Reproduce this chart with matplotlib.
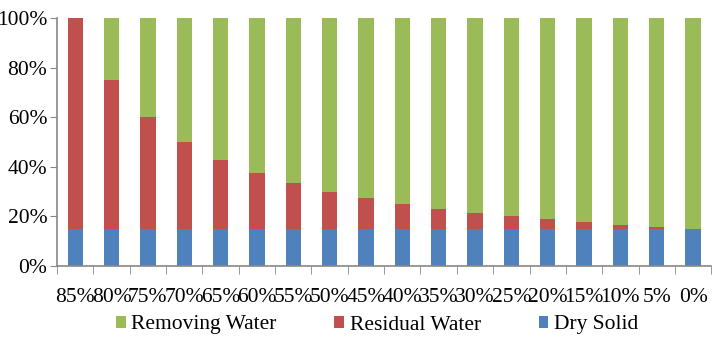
import numpy as np
import matplotlib.pyplot as plt
from matplotlib.ticker import FixedLocator, PercentFormatter

plt.rcParams['font.family'] = ['Liberation Serif', 'DejaVu Serif']

moisture = ['85%', '80%', '75%', '70%', '65%', '60%', '55%', '50%', '45%',
            '40%', '35%', '30%', '25%', '20%', '15%', '10%', '5%', '0%']
dry_solid = [15] * 18
residual = [85, 60, 45, 35, 27.9, 22.5, 18.3, 15, 12.3,
            10, 8.1, 6.4, 5, 3.8, 2.6, 1.7, 0.8, 0]
removing = [100 - d - r for d, r in zip(dry_solid, residual)]

x = np.arange(len(moisture))
fig, ax = plt.subplots(figsize=(7.17, 3.43), dpi=100)
fig.subplots_adjust(left=0.0795, right=0.992, top=0.9475, bottom=0.2245)

w = 0.42
b1 = ax.bar(x, dry_solid, w, color='#4F81BD', label='Dry Solid')
b2 = ax.bar(x, residual, w, bottom=dry_solid, color='#C0504D', label='Residual Water')
bot = [d + r for d, r in zip(dry_solid, residual)]
b3 = ax.bar(x, removing, w, bottom=bot, color='#9BBB59', label='Removing Water')

ax.set_xlim(-0.5, len(moisture) - 0.5)
ax.set_ylim(0, 100)
ax.set_yticks(range(0, 101, 20))
ax.yaxis.set_major_formatter(PercentFormatter(decimals=0))
ax.set_xticks(x)
ax.set_xticklabels(moisture)
ax.xaxis.set_minor_locator(FixedLocator(np.arange(-0.5, len(moisture), 1.0)))
ax.tick_params(axis='x', which='major', length=0, pad=16, labelsize=15.5)
ax.tick_params(axis='x', which='minor', length=6, color='#888888')
ax.tick_params(axis='y', length=5, color='#888888', labelsize=15.5, pad=2)

for s in ['top', 'right']:
    ax.spines[s].set_visible(False)
for s in ['left', 'bottom']:
    ax.spines[s].set_color('#888888')
    ax.spines[s].set_linewidth(1.2)

fig.legend(handles=[b3, b2, b1], loc='center', bbox_to_anchor=(377 / 717, 18 / 343),
           ncol=3, frameon=False, fontsize=15.5, handlelength=0.45, handleheight=0.45,
           handletextpad=0.25, columnspacing=2.7)

plt.savefig('out.png')
